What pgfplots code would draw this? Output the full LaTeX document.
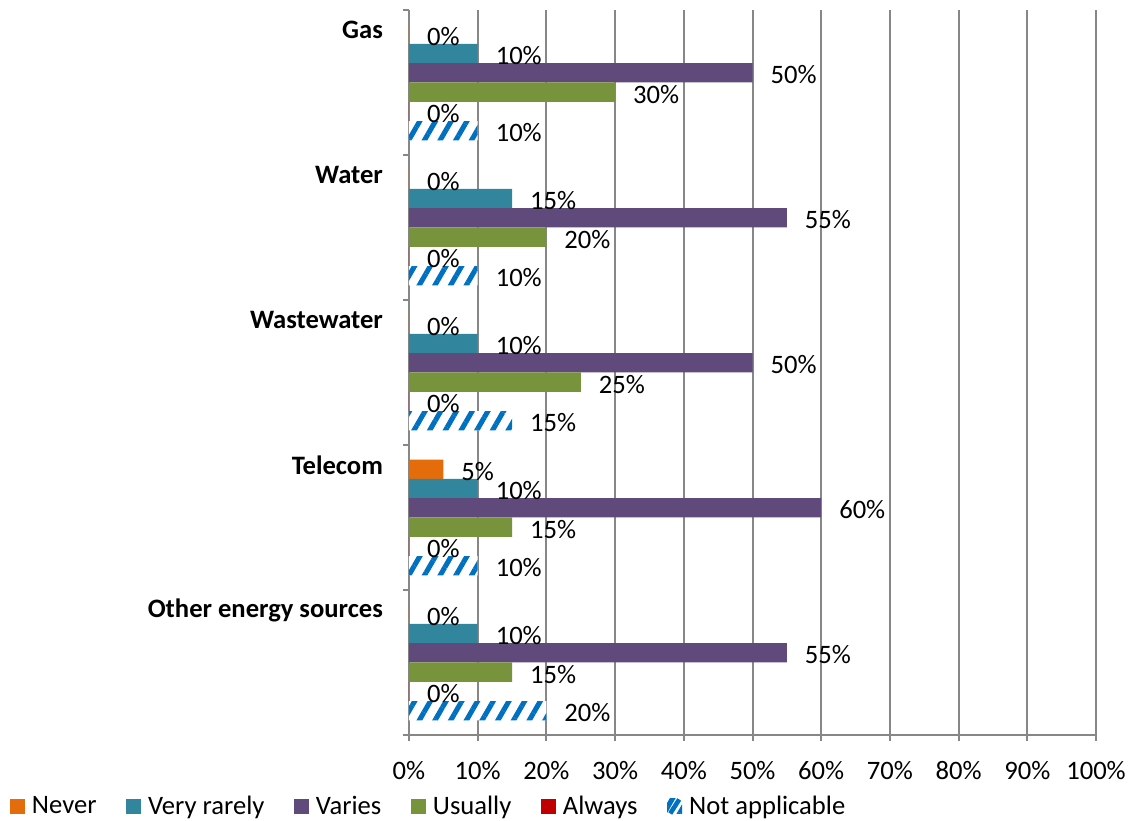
\documentclass[border=0pt]{standalone}
\usepackage{pgfplots}
\pgfplotsset{compat=1.18}
\usepackage{pgfplotstable}
\usetikzlibrary{patterns.meta}
\usepackage{fontspec}
\setmainfont{Carlito}
\definecolor{cNever}{HTML}{E46C0A}
\definecolor{cVR}{HTML}{31859C}
\definecolor{cVaries}{HTML}{604A7B}
\definecolor{cUsually}{HTML}{77933C}
\definecolor{cAlways}{HTML}{C00000}
\definecolor{cNA}{HTML}{0070C0}
\definecolor{gridgray}{HTML}{878787}
\newcommand\fs{\fontsize{13.3}{16}\selectfont}
\pgfplotstableread{
y never vr varies usually always na
4 0 10 50 30 0 10
3 0 15 55 20 0 10
2 0 10 50 25 0 15
1 5 10 60 15 0 10
0 0 10 55 15 0 20
}\data
\pgfplotsset{mybar/.style={draw=none, legend image code/.code={\fill[##1] (0pt,-3.75pt) rectangle (7.5pt,3.75pt);}}}
\begin{document}
\begin{tikzpicture}
\begin{axis}[name=ax, scale only axis, width=343.5pt, height=362.5pt,
  xbar, bar width=9.65pt,
  xmin=0, xmax=100, ymin=-0.5, ymax=4.5,
  axis x line*=bottom, axis y line*=left,
  axis line style={draw=gridgray, line width=1pt},
  xtick={0,10,...,100},
  xticklabels={0\%,10\%,20\%,30\%,40\%,50\%,60\%,70\%,80\%,90\%,100\%},
  xticklabel style={font=\fs, yshift=-6.5pt},
  xmajorgrids, grid style={gridgray, line width=1pt},
  ytick={0.362,1.362,2.362,3.362,4.362},
  yticklabels={Other energy sources, Telecom, Wastewater, Water, Gas},
  yticklabel style={font=\fs\bfseries, xshift=-6.5pt},
  minor ytick={-0.5,0.5,1.5,2.5,3.5,4.5},
  tick align=outside,
  major tick length=3pt, minor tick length=3pt,
  major y tick style={draw=none},
  tick style={gridgray, line width=1pt},
  minor y tick style={gridgray, line width=1pt},
  point meta=x,
  nodes near coords={\pgfmathprintnumber[assume math mode=true]{\pgfplotspointmeta}\%},
  nodes near coords style={font=\fs, anchor=west, xshift=5.5pt, yshift=-1pt, black},
  legend style={at={(-0.5808,-0.0986)}, anchor=west, draw=none, fill=none,
    inner sep=0pt, outer sep=0pt,
    legend columns=-1, font=\fs, nodes={inner sep=0pt},
    /tikz/every odd column/.append style={column sep=3.5pt},
    /tikz/every even column/.append style={column sep=14.8pt}},
]
\addplot[mybar, fill=cNever, bar shift=24.125pt] table[x=never,y=y]{\data};
\addplot[mybar, fill=cVR, bar shift=14.475pt] table[x=vr,y=y]{\data};
\addplot[mybar, fill=cVaries, bar shift=4.825pt] table[x=varies,y=y]{\data};
\addplot[mybar, fill=cUsually, bar shift=-4.825pt] table[x=usually,y=y]{\data};
\addplot[mybar, fill=cAlways, bar shift=-14.475pt] table[x=always,y=y]{\data};
\addplot[mybar, fill=white, postaction={pattern={Lines[angle=60,distance=6.8pt,line width=2.5pt]}, pattern color=cNA}, bar shift=-24.125pt,
  legend image code/.code={\path (0pt,-3.75pt) rectangle (7.5pt,3.75pt); \draw[cNA, line width=2.3pt] (1.5pt,-3.5pt) -- (6pt,3.5pt);}] table[x=na,y=y]{\data};
\legend{Never, Very rarely, Varies, Usually, Always, Not applicable}
\end{axis}
\pgfresetboundingbox
\useasboundingbox ([xshift=-204.5pt,yshift=-43pt]ax.south west) rectangle ([xshift=24pt,yshift=5pt]ax.north east);
\end{tikzpicture}
\end{document}
